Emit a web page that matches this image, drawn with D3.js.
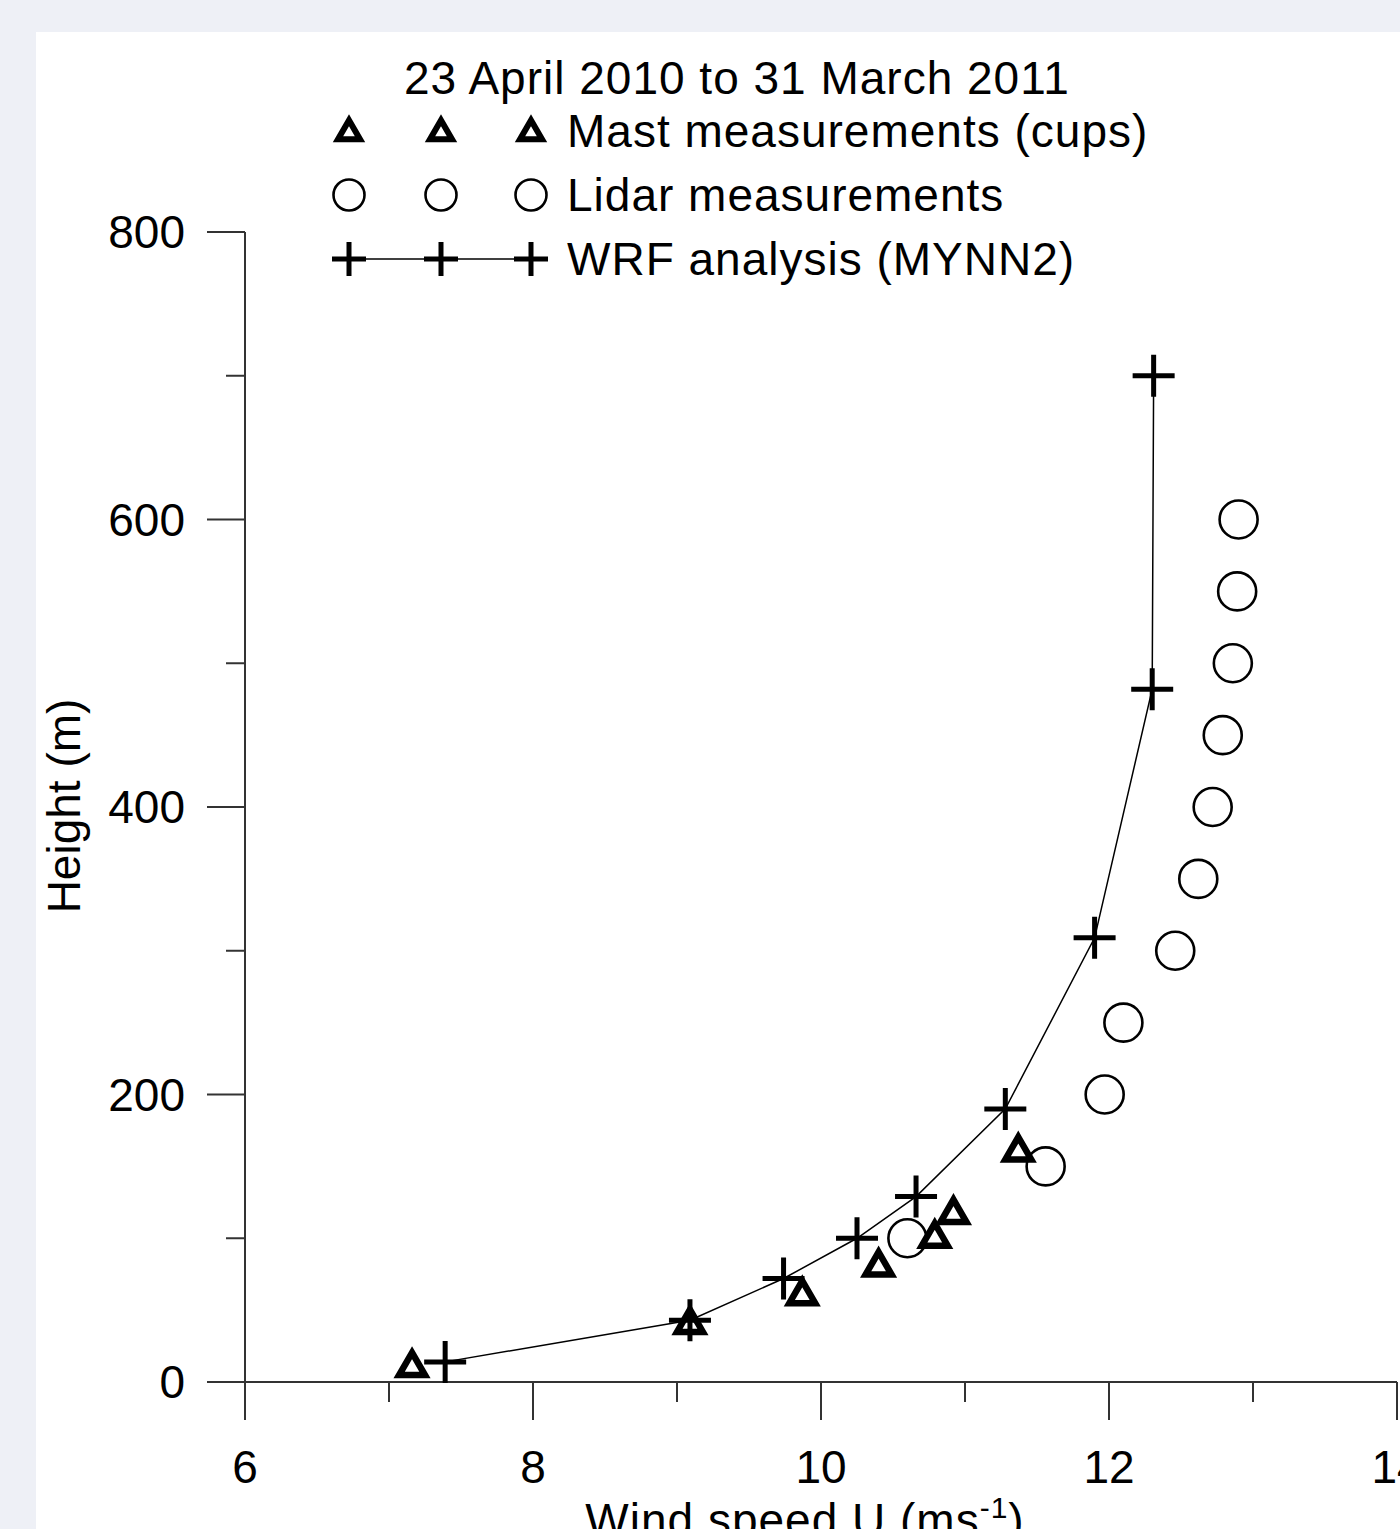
<!DOCTYPE html>
<html>
<head>
<meta charset="utf-8">
<script src="https://cdn.jsdelivr.net/npm/d3@7"></script>
<style>
  body { margin: 0; background: #eef0f6; }
  svg { display: block; }
  text { font-family: Arial, "Liberation Sans", sans-serif; fill: #000; }
</style>
</head>
<body>
<div class="chart"></div>
<script>
// chart values
var title = "23 April 2010 to 31 March 2011";
var seriesNames = ["Mast measurements (cups)", "Lidar measurements", "WRF analysis (MYNN2)"];

var mastHeight = [10, 40, 60, 80, 100, 116.5, 160];
var mastSpeed  = [7.16, 9.09, 9.87, 10.40, 10.79, 10.92, 11.37];

var lidarHeight = [100, 150, 200, 250, 300, 350, 400, 450, 500, 550, 600];
var lidarSpeed  = [10.60, 11.56, 11.97, 12.10, 12.46, 12.62, 12.72, 12.79, 12.86, 12.89, 12.90];

var wrfHeight = [14, 43, 72, 100, 129, 190, 309, 482, 700];
var wrfSpeed  = [7.39, 9.09, 9.74, 10.25, 10.66, 11.28, 11.90, 12.30, 12.31];

var xMajor = [6, 8, 10, 12, 14];
var xMinor = [7, 9, 11, 13];
var yMajor = [0, 200, 400, 600, 800];
var yMinor = [100, 300, 500, 700];

var svg = d3.select(".chart").append("svg")
            .attr("width", 1400)
            .attr("height", 1529);

// white panel
svg.append("rect")
   .attr("x", 36).attr("y", 32)
   .attr("width", 1400).attr("height", 1529)
   .attr("fill", "#fff");

var x = d3.scaleLinear().domain([6, 14]).range([245, 1397]);
var y = d3.scaleLinear().domain([0, 800]).range([1382, 232]);

var axisColor = "#333";

// x axis
var xAxis = svg.append("g").attr("transform", "translate(0," + y(0) + ")");
xAxis.append("line")
     .attr("x1", 207).attr("x2", x(14))
     .attr("stroke", axisColor).attr("stroke-width", 2);
xAxis.selectAll(".major").data(xMajor).enter().append("line")
     .attr("x1", function(d){ return x(d); }).attr("x2", function(d){ return x(d); })
     .attr("y1", 0).attr("y2", 38)
     .attr("stroke", axisColor).attr("stroke-width", 2);
xAxis.selectAll(".minor").data(xMinor).enter().append("line")
     .attr("x1", function(d){ return x(d); }).attr("x2", function(d){ return x(d); })
     .attr("y1", 0).attr("y2", 20)
     .attr("stroke", axisColor).attr("stroke-width", 2);
xAxis.selectAll("text").data(xMajor).enter().append("text")
     .attr("x", function(d){ return x(d); })
     .attr("y", 101)
     .attr("text-anchor", "middle")
     .attr("font-size", 46)
     .text(function(d){ return d; });

// y axis
var yAxis = svg.append("g").attr("transform", "translate(" + x(6) + ",0)");
yAxis.append("line")
     .attr("y1", y(800)).attr("y2", y(0))
     .attr("stroke", axisColor).attr("stroke-width", 2);
yAxis.selectAll(".major").data(yMajor).enter().append("line")
     .attr("y1", function(d){ return y(d); }).attr("y2", function(d){ return y(d); })
     .attr("x1", -38).attr("x2", 0)
     .attr("stroke", axisColor).attr("stroke-width", 2);
yAxis.selectAll(".minor").data(yMinor).enter().append("line")
     .attr("y1", function(d){ return y(d); }).attr("y2", function(d){ return y(d); })
     .attr("x1", -19).attr("x2", 0)
     .attr("stroke", axisColor).attr("stroke-width", 2);
yAxis.selectAll("text").data(yMajor).enter().append("text")
     .attr("x", -60)
     .attr("y", function(d){ return y(d) + 16; })
     .attr("text-anchor", "end")
     .attr("font-size", 46)
     .text(function(d){ return d; });

// axis titles
var xTitle = svg.append("text")
   .attr("x", 805).attr("y", 1536)
   .attr("text-anchor", "middle")
   .attr("font-size", 46)
   .attr("letter-spacing", 1);
xTitle.append("tspan").text("Wind speed U (ms");
xTitle.append("tspan").attr("font-size", 30).attr("dy", -18).text("-1");
xTitle.append("tspan").attr("dy", 18).text(")");

svg.append("text")
   .attr("transform", "translate(80,806) rotate(-90)")
   .attr("text-anchor", "middle")
   .attr("font-size", 46)
   .text("Height (m)");

// marker helpers
var tri = function(s){ return d3.symbol().type(d3.symbolTriangle).size(s)(); };
function drawTriangle(g, cx, cy, s, w){
  g.append("path")
   .attr("d", tri(s))
   .attr("transform", "translate(" + cx + "," + cy + ")")
   .attr("fill", "#fff").attr("stroke", "#000")
   .attr("stroke-width", w).attr("stroke-linejoin", "miter");
}
function drawCircle(g, cx, cy, r){
  g.append("circle")
   .attr("cx", cx).attr("cy", cy).attr("r", r)
   .attr("fill", "none").attr("stroke", "#000").attr("stroke-width", 2.6);
}
function drawCross(g, cx, cy, h){
  g.append("path")
   .attr("d", "M" + (cx - h) + "," + cy + "H" + (cx + h) + "M" + cx + "," + (cy - h) + "V" + (cy + h))
   .attr("stroke", "#000").attr("stroke-width", 5).attr("fill", "none");
}

// WRF line
var line = d3.line()
             .x(function(d, i){ return x(wrfSpeed[i]); })
             .y(function(d){ return y(d); });
svg.append("path")
   .datum(wrfHeight)
   .attr("d", line)
   .attr("fill", "none").attr("stroke", "#000").attr("stroke-width", 1.5);

var marks = svg.append("g");
lidarHeight.forEach(function(h, i){ drawCircle(marks, x(lidarSpeed[i]), y(h), 19); });
mastHeight.forEach(function(h, i){ drawTriangle(marks, x(mastSpeed[i]), y(h), 290, 6.5); });
wrfHeight.forEach(function(h, i){ drawCross(marks, x(wrfSpeed[i]), y(h), 21); });

// title and legend
svg.append("text")
   .attr("x", 737).attr("y", 94)
   .attr("text-anchor", "middle")
   .attr("font-size", 46)
   .attr("letter-spacing", 1)
   .text(title);

var legX = [349, 441, 531];
var legY = [131, 195, 259];
var legend = svg.append("g");
legend.append("line")
      .attr("x1", legX[0]).attr("x2", legX[2])
      .attr("y1", legY[2]).attr("y2", legY[2])
      .attr("stroke", "#000").attr("stroke-width", 1.5);
legX.forEach(function(lx){
  drawTriangle(legend, lx, legY[0] + 2, 210, 6);
  drawCircle(legend, lx, legY[1], 15.5);
  drawCross(legend, lx, legY[2], 17);
});
legend.selectAll("text").data(seriesNames).enter().append("text")
      .attr("x", 567)
      .attr("y", function(d, i){ return legY[i] + 16; })
      .attr("font-size", 46)
      .attr("letter-spacing", 1)
      .text(function(d){ return d; });
</script>
</body>
</html>
